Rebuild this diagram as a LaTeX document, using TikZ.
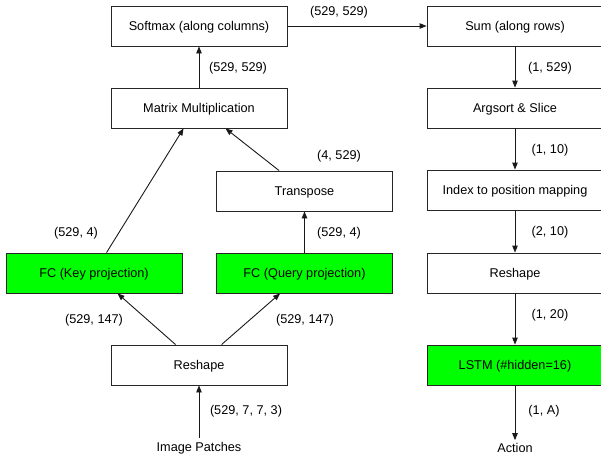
\documentclass[tikz,border=0pt]{standalone}
\usepackage{fontspec}
\setmainfont{Liberation Sans}
\usetikzlibrary{arrows.meta,calc}
\definecolor{fcgreen}{HTML}{00FF00}
\tikzset{
  box/.style={draw=black!85, line width=0.9pt, minimum width=176pt, minimum height=40pt, inner sep=0pt, anchor=center, text height=9.2pt, text depth=0pt},
  gbox/.style={box, fill=fcgreen},
  arr/.style={draw=black!90, line width=0.9pt, -{Triangle[length=7pt,width=5.5pt]}},
  lbl/.style={inner sep=0pt, anchor=center},
  every node/.style={font=\fontsize{12.7pt}{14pt}\selectfont}
}
\begin{document}
\begin{tikzpicture}[x=1pt,y=-1pt]
\useasboundingbox (0,0) rectangle (601,458);
% boxes
\node[box] (softmax) at (199,26) {Softmax (along columns)};
\node[box] (sum) at (515,26) {Sum (along rows)};
\node[box] (matmul) at (199,108) {Matrix Multiplication};
\node[box] (argsort) at (515,108) {Argsort \& Slice};
\node[box] (transpose) at (304.5,191) {Transpose};
\node[box] (index) at (515,190) {Index to position mapping};
\node[gbox] (fckey) at (94,273) {FC (Key projection)};
\node[gbox] (fcquery) at (304.5,273) {FC (Query projection)};
\node[box] (reshapeR) at (515,273) {Reshape};
\node[box] (reshapeL) at (199,365) {Reshape};
\node[gbox] (lstm) at (515,365) {LSTM (\#hidden=16)};
\node[lbl] (patches) at (199,448) {Image Patches};
\node[lbl] (action) at (515,448) {Action};
% connectors
\draw[arr] ($(patches.north)+(0,-4)$) -- (reshapeL.south);
\draw[arr] ($(reshapeL.north west)+(65,0)$) -- ($(fckey.south west)+(112,0)$);
\draw[arr] ($(reshapeL.north west)+(111,0)$) -- ($(fcquery.south west)+(64,0)$);
\draw[arr] ($(fckey.north west)+(101,0)$) -- ($(matmul.south west)+(73,0)$);
\draw[arr] (fcquery.north) -- (transpose.south);
\draw[arr] ($(transpose.north west)+(63,0)$) -- ($(matmul.south west)+(115,0)$);
\draw[arr] (matmul.north) -- (softmax.south);
\draw[arr] (softmax.east) -- (sum.west);
\draw[arr] (sum.south) -- (argsort.north);
\draw[arr] (argsort.south) -- (index.north);
\draw[arr] (index.south) -- (reshapeR.north);
\draw[arr] (reshapeR.south) -- (lstm.north);
\draw[arr] (lstm.south) -- ($(action.north)+(0,-3)$);
% labels
\node[lbl] (l1) at (246,411) {(529, 7, 7, 3)};
\node[lbl] (l2) at (94,320) {(529, 147)};
\node[lbl] (l3) at (305,320) {(529, 147)};
\node[lbl] (l4) at (76,233) {(529, 4)};
\node[lbl] (l5) at (339,233) {(529, 4)};
\node[lbl] (l6) at (339,156) {(4, 529)};
\node[lbl] (l7) at (238,68) {(529, 529)};
\node[lbl] (l8) at (339,12) {(529, 529)};
\node[lbl] (l9) at (550,68) {(1, 529)};
\node[lbl] (l10) at (550,150) {(1, 10)};
\node[lbl] (l11) at (550,232) {(2, 10)};
\node[lbl] (l12) at (550,315) {(1, 20)};
\node[lbl] (l13) at (544,411) {(1, A)};
\end{tikzpicture}
\end{document}
